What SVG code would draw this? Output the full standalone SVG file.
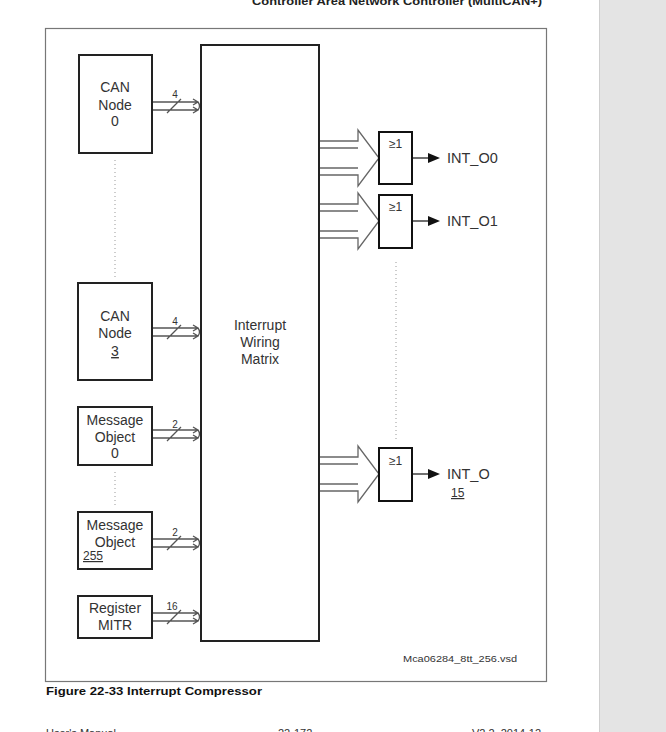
<svg xmlns="http://www.w3.org/2000/svg" width="666" height="732" viewBox="0 0 666 732">
<style>
text{font-family:"Liberation Sans",Arial,sans-serif;fill:#333}
.lbl{font-size:14px;text-anchor:middle}
.box{fill:#fff;stroke:#222;stroke-width:2}
.gate{fill:#fff;stroke:#111;stroke-width:2}
.bus{fill:none;stroke:#555;stroke-width:1.3}
.fan{fill:none;stroke:#666;stroke-width:1.3}
.dot{stroke:#999;stroke-width:1;stroke-dasharray:1 3}
.small{font-size:10px;text-anchor:middle}
.out{stroke:#222;stroke-width:1.3}
</style>
<defs>
<path id="busArrow" d="M0,0 H46 M0,8 H46 M41,-3 L46,0 L41,3 M41,5 L46,8 L41,11 M46,0 Q49,4 46,8 M15,11 L29,-3"/>
<path id="fanIn" d="M-61,-17 H-21 V-28 L0,0 L-21,28 V17 H-61 M-61,-10 H-21 M-61,10 H-21"/>
</defs>
<rect x="0" y="0" width="666" height="732" fill="#fff"/>
<rect x="600" y="0" width="66" height="732" fill="#e4e4e4"/>
<line x1="599.5" y1="0" x2="599.5" y2="732" stroke="#cfcfcf"/>
<text x="252" y="5" font-size="11" font-weight="bold" textLength="290" lengthAdjust="spacingAndGlyphs" style="fill:#222">Controller Area Network Controller (MultiCAN+)</text>
<rect x="45.5" y="28.5" width="501" height="653" fill="none" stroke="#777" stroke-width="1.2"/>

<g id="connectors">
<use href="#busArrow" x="152" y="102" class="bus"/>
<use href="#busArrow" x="152" y="328" class="bus"/>
<use href="#busArrow" x="152" y="430" class="bus"/>
<use href="#busArrow" x="152" y="539" class="bus"/>
<use href="#busArrow" x="152" y="613" class="bus"/>
<text x="175" y="98" class="small">4</text>
<text x="175" y="325" class="small">4</text>
<text x="175" y="428" class="small">2</text>
<text x="175" y="536" class="small">2</text>
<text x="172" y="610" class="small">16</text>
<use href="#fanIn" x="379" y="158" class="fan"/>
<use href="#fanIn" x="379" y="221" class="fan"/>
<use href="#fanIn" x="379" y="474" class="fan"/>
<g class="out">
<line x1="412" y1="158" x2="430" y2="158"/>
<line x1="412" y1="221" x2="430" y2="221"/>
<line x1="412" y1="474" x2="430" y2="474"/>
</g>
<path d="M428,153 L440,158 L428,163 Z M428,216 L440,221 L428,226 Z M428,469 L440,474 L428,479 Z" fill="#111"/>
<line x1="115" y1="160" x2="115" y2="280" class="dot"/>
<line x1="115" y1="472" x2="115" y2="506" class="dot"/>
<line x1="396" y1="262" x2="396" y2="442" class="dot"/>
</g>

<g id="can0"><rect x="79" y="55" width="73" height="98" class="box"/>
<text x="115" y="92" class="lbl">CAN</text><text x="115" y="110" class="lbl">Node</text><text x="115" y="126" class="lbl">0</text></g>
<g id="can3"><rect x="78" y="283" width="74" height="97" class="box"/>
<text x="115" y="321" class="lbl">CAN</text><text x="115" y="338" class="lbl">Node</text><text x="115" y="356" class="lbl" text-decoration="underline">3</text></g>
<g id="mo0"><rect x="78" y="407" width="74" height="58" class="box"/>
<text x="115" y="425" class="lbl">Message</text><text x="115" y="442" class="lbl">Object</text><text x="115" y="458" class="lbl">0</text></g>
<g id="mo255"><rect x="78" y="512" width="74" height="57" class="box"/>
<text x="115" y="530" class="lbl">Message</text><text x="115" y="547" class="lbl">Object</text><text x="83" y="560" font-size="12" text-decoration="underline">255</text></g>
<g id="mitr"><rect x="78" y="596" width="74" height="42" class="box"/>
<text x="115" y="613" class="lbl">Register</text><text x="115" y="630" class="lbl">MITR</text></g>
<g id="matrix"><rect x="201" y="45" width="118" height="596" class="box"/>
<text x="260" y="330" class="lbl">Interrupt</text><text x="260" y="347" class="lbl">Wiring</text><text x="260" y="364" class="lbl">Matrix</text></g>

<g id="gate0"><rect x="379" y="132" width="33" height="52" class="gate"/><text x="389" y="148" font-size="12">≥1</text></g>
<g id="gate1"><rect x="379" y="195" width="33" height="53" class="gate"/><text x="389" y="211" font-size="12">≥1</text></g>
<g id="gate15"><rect x="379" y="448" width="33" height="53" class="gate"/><text x="389" y="465" font-size="12">≥1</text></g>
<text x="447" y="163" font-size="14.5">INT_O0</text>
<text x="447" y="226" font-size="14.5">INT_O1</text>
<text x="447" y="479" font-size="14.5">INT_O</text>
<text x="451" y="497" font-size="12" text-decoration="underline">15</text>

<text x="403" y="662" font-size="9.5" textLength="114" lengthAdjust="spacingAndGlyphs">Mca06284_8tt_256.vsd</text>
<text x="46" y="695" font-size="11" font-weight="bold" textLength="216" lengthAdjust="spacingAndGlyphs" style="fill:#111">Figure 22-33  Interrupt Compressor</text>
<text x="46" y="737" font-size="11">User's Manual</text>
<text x="278" y="737" font-size="11">22-172</text>
<text x="472" y="737" font-size="11">V2.2, 2014-12</text>
</svg>
